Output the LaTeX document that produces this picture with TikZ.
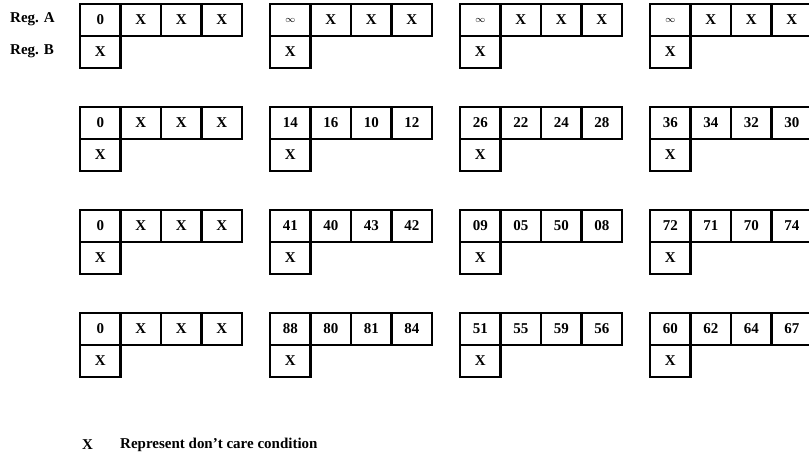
\documentclass[tikz,border=0pt]{standalone}
\usepackage{fontspec}
\setmainfont{Liberation Serif}
\usetikzlibrary{positioning}

\begin{document}
\begin{tikzpicture}[x=0.03cm,y=-0.03cm,
  cell/.style={rectangle,draw=black,line width=2.4pt,inner sep=0pt,
               minimum width=1.215cm,minimum height=0.96cm,
               font=\bfseries\fontsize{12.8}{15}\selectfont},
  lbl/.style={anchor=west,inner sep=0pt,font=\bfseries\fontsize{12.8}{15}\selectfont}
]
\useasboundingbox (0,0) rectangle (809,458);
\clip (0,0) rectangle (809,458);
% register names
\node[lbl] (rega) at (10,19) {Reg. A};
\node[lbl] (regb) at (10,51) {Reg. B};
% register contents, one line per step
\foreach \r/\row in {0/{{0,X,X,X},{{\footnotesize$\infty$},X,X,X},{{\footnotesize$\infty$},X,X,X},{{\footnotesize$\infty$},X,X,X}},
                    1/{{0,X,X,X},{14,16,10,12},{26,22,24,28},{36,34,32,30}},
                    2/{{0,X,X,X},{41,40,43,42},{09,05,50,08},{72,71,70,74}},
                    3/{{0,X,X,X},{88,80,81,84},{51,55,59,56},{60,62,64,67}}}{
  \foreach \grp [count=\g from 0] in \row {
    % register A
    \foreach \v [count=\k from 0] in \grp
      \node[cell] (a-\r-\g-\k) at (100.25+40.5*\k+190*\g,20+103*\r) {\v};
    % register B
    \node[cell] (b-\r-\g) at (100.25+190*\g,52+103*\r) {X};
  }
}
% legend
\node[lbl] (key) at (82,445) {X};
\node[lbl] (keytext) at (120,445) {Represent don’t care condition};
\end{tikzpicture}
\end{document}
